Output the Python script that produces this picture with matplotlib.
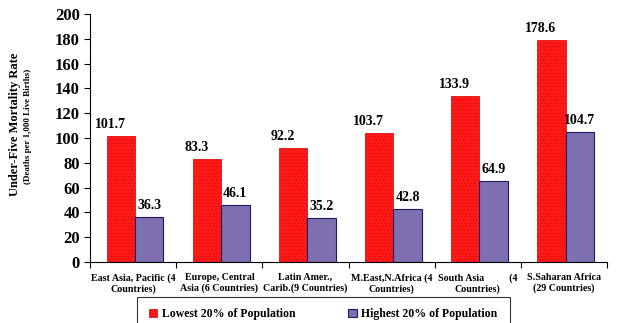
import numpy as np
import matplotlib.pyplot as plt

plt.rcParams['font.family'] = 'Liberation Serif'
plt.rcParams['font.weight'] = 'bold'
plt.rcParams['hatch.linewidth'] = 0.3

regions = ['East Asia, Pacific (4\nCountries)', 'Europe, Central\nAsia (6 Countries)',
           'Latin Amer.,\nCarib.(9 Countries)', 'M.East,N.Africa (4\nCountries)',
           'South Asia          (4\nCountries)', 'S.Saharan Africa\n(29 Countries)']
lowest = [101.7, 83.3, 92.2, 103.7, 133.9, 178.6]
highest = [36.3, 46.1, 35.2, 42.8, 64.9, 104.7]

fig = plt.figure(figsize=(6.18, 3.23), dpi=100)
ax = fig.add_axes([0.146, 0.189, 0.836, 0.768])

x = np.arange(len(regions))
w = 0.33
b1 = ax.bar(x - w/2 + 0.02, lowest, w, color='#FF1A1A', edgecolor='#D00000', hatch='.....',
            linewidth=0.5, label='Lowest 20% of Population')
b2 = ax.bar(x + w/2 + 0.02, highest, w, color='#7E70B0', edgecolor='#1A1A60', linewidth=0.8,
            label='Highest 20% of Population')

for xi, v in zip(x, lowest):
    ax.text(xi - w/2 - 0.1, v + 4, f'{v:.1f}', ha='center', va='bottom', fontsize=10, fontweight='bold')
for xi, v in zip(x, highest):
    ax.text(xi + w/2 + 0.02, v + 4, f'{v:.1f}', ha='center', va='bottom', fontsize=10, fontweight='bold')

ax.set_xlim(-0.5, len(regions) - 0.5)
ax.set_ylim(0, 200)
ax.set_yticks(range(0, 201, 20))
ax.set_xticks(np.arange(-0.5, len(regions), 1))
ax.set_xticklabels([])
ax.set_xticks(x, minor=True)
ax.set_xticklabels(regions, minor=True, fontsize=7.2, fontweight='bold')
ax.tick_params(axis='x', which='minor', length=0, pad=8)
ax.tick_params(axis='x', which='major', length=4, direction='out')
ax.tick_params(axis='y', labelsize=12, length=4)
for lab in ax.get_yticklabels():
    lab.set_fontweight('bold')
ax.spines['top'].set_visible(False)
ax.spines['right'].set_visible(False)

fig.text(0.025, 0.616, 'Under-Five Mortality Rate', rotation=90, ha='center', va='center',
         fontsize=9, fontweight='bold')
fig.text(0.046, 0.61, '(Deaths per 1,000 Live Births)', rotation=90, ha='center', va='center',
         fontsize=6.5, fontweight='bold')

leg = fig.legend(handles=[b1, b2], loc='upper center', bbox_to_anchor=(0.523, 0.082), ncol=2,
                 fontsize=8.5, frameon=True, fancybox=False, edgecolor='black',
                 handlelength=0.7, handleheight=0.7, handletextpad=0.4,
                 columnspacing=4.5, borderpad=1.0, borderaxespad=0)
leg.get_frame().set_linewidth(0.8)

fig.savefig('out.png', dpi=100)
